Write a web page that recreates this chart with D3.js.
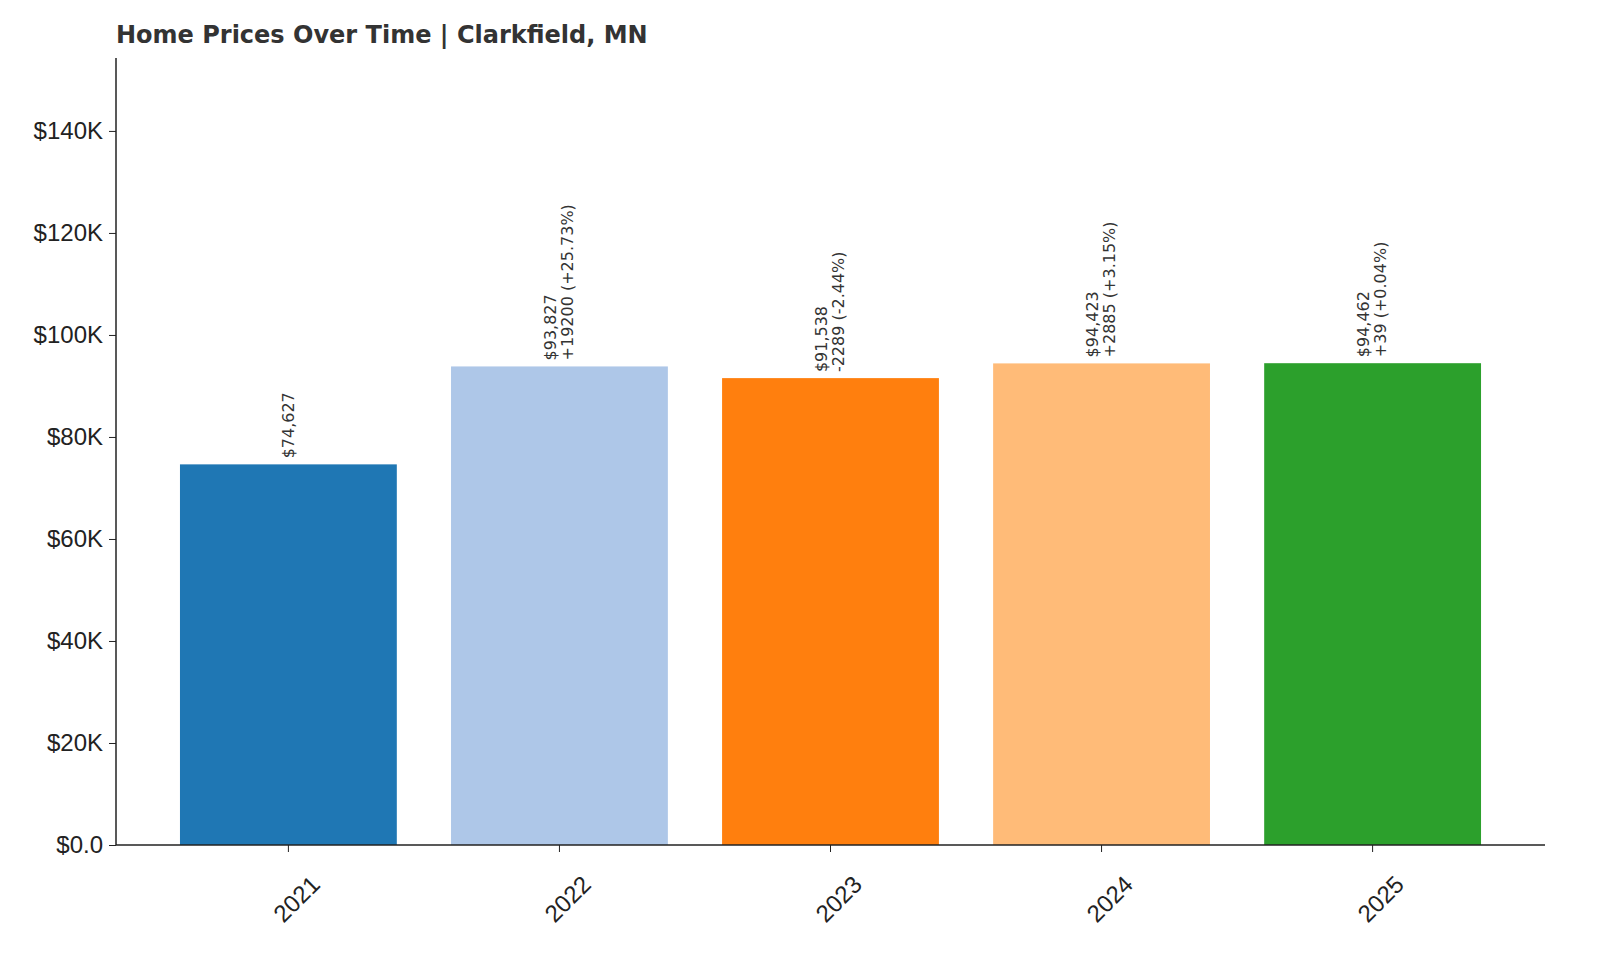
<!DOCTYPE html>
<html><head><meta charset="utf-8">
<script src="https://cdn.jsdelivr.net/npm/d3@7"></script>
<style>body{margin:0;background:#fff}svg{font-family:"DejaVu Sans",sans-serif}</style>
</head><body><svg id="c" width="1600" height="960"></svg>
<script>
const years = ["2021","2022","2023","2024","2025"];
const prices = [74627, 93827, 91538, 94423, 94462];
const changes = [null, "+19200 (+25.73%)", "-2289 (-2.44%)", "+2885 (+3.15%)", "+39 (+0.04%)"];
const colors = ["#1f77b4","#aec7e8","#ff7f0e","#ffbb78","#2ca02c"];
const yTicks = [0,20000,40000,60000,80000,100000,120000,140000];
const yTickLabels = ["$0.0","$20K","$40K","$60K","$80K","$100K","$120K","$140K"];

const svg = d3.select("#c");
const L=116,R=1545,T=58,B=845;
const x = d3.scaleBand().domain(years).range([L,R]).paddingInner(0.2).paddingOuter(0.236);
const y = d3.scaleLinear().domain([0,154300]).range([B,T]);

svg.append("text").attr("x",116).attr("y",43).attr("font-size",24).attr("font-weight","bold")
  .attr("fill","#333").text("Home Prices Over Time | Clarkfield, MN");

svg.selectAll("rect.bar").data(years).join("rect")
  .attr("x",d=>x(d)).attr("width",x.bandwidth())
  .attr("y",(d,i)=>y(prices[i])).attr("height",(d,i)=>B-y(prices[i]))
  .attr("fill",(d,i)=>colors[i]);

const yAx = svg.append("g").attr("transform",`translate(${L},0)`)
  .call(d3.axisLeft(y).tickValues(yTicks).tickFormat((d,i)=>yTickLabels[i]).tickSize(7).tickPadding(6));
yAx.select(".domain").attr("d",`M0,${T}V${B}`).attr("stroke","#222").attr("stroke-width",1.5);
yAx.selectAll("text").attr("font-size",24).attr("fill","#222");
yAx.selectAll("line").attr("stroke","#222");

const xAx = svg.append("g").attr("transform",`translate(0,${B})`)
  .call(d3.axisBottom(x).tickSize(7));
xAx.select(".domain").attr("d",`M${L},0H${R}`).attr("stroke","#222").attr("stroke-width",1.5);
xAx.selectAll("line").attr("stroke","#222");
xAx.selectAll("text").attr("font-size",24).attr("fill","#222")
  .attr("text-anchor","end").attr("transform","translate(14,22) rotate(-45)").attr("dy","0.7em");

const fmt = d3.format(",");
years.forEach((yr,i)=>{
  const cx = x(yr)+x.bandwidth()/2, ty = y(prices[i])-6;
  const g = svg.append("g").attr("transform",`translate(${cx},${ty}) rotate(-90)`);
  const lines = changes[i] ? ["$"+fmt(prices[i]), changes[i]] : ["$"+fmt(prices[i])];
  const off = lines.length===2 ? [-9,8] : [0];
  lines.forEach((t,j)=>g.append("text").attr("x",0).attr("y",off[j]).attr("dy","0.35em")
    .attr("font-size",16).attr("fill","#333").text(t));
});
</script></body></html>
